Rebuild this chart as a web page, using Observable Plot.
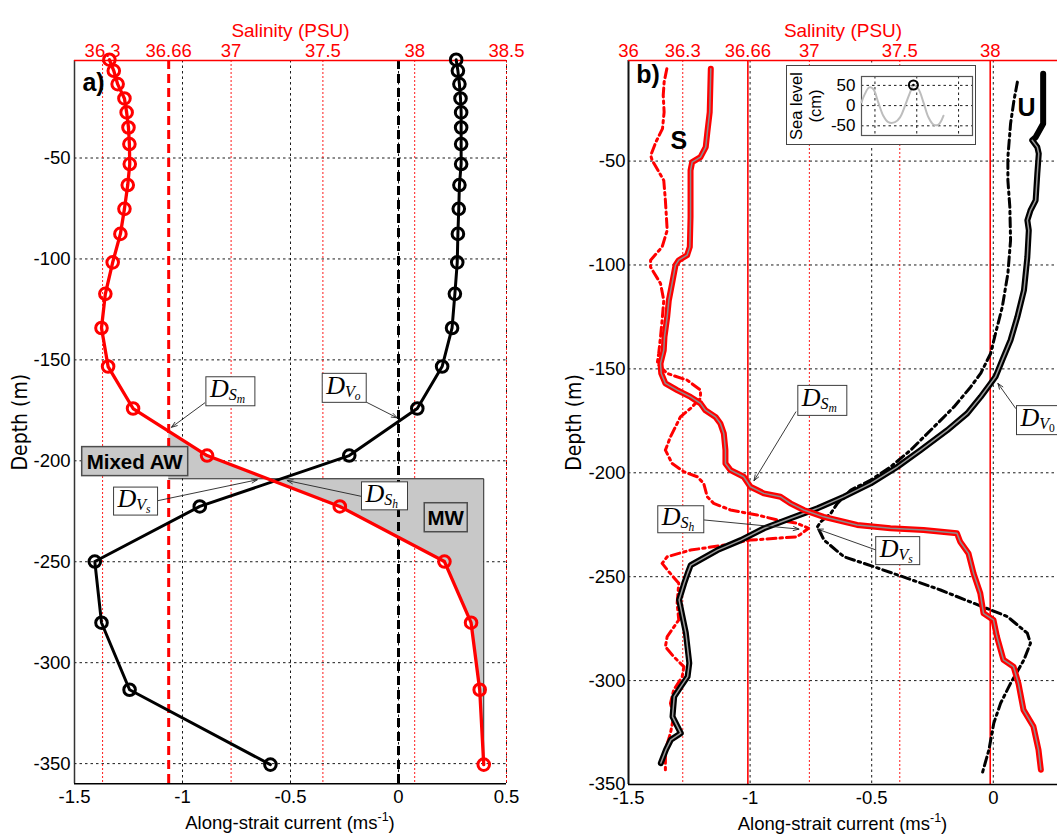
<!DOCTYPE html>
<html>
<head>
<meta charset="utf-8">
<script src="https://cdn.jsdelivr.net/npm/d3@7"></script>
<script src="https://cdn.jsdelivr.net/npm/@observablehq/plot@0.6"></script>
<style>
  html, body { margin: 0; padding: 0; background: #fff; }
  #wrap { position: relative; width: 1057px; height: 835px; overflow: hidden; background: #fff; }
  .panel { position: absolute; top: 0; }
  #inset { position: absolute; left: 786px; top: 65px; border: 1px solid #444; background: #fff; line-height: 0; }
</style>
</head>
<body>
<div id="wrap">
  <div class="panel" id="pa" style="left:0;width:529px"></div>
  <div class="panel" id="pb" style="left:529px;width:528px"></div>
  <div id="inset"></div>
</div>
<script>
// ---------------- tick values and labels ----------------
const depthTicks = [-350, -300, -250, -200, -150, -100, -50];
const depthTickLabels = ["-350", "-300", "-250", "-200", "-150", "-100", "-50"];
const currentTicksA = [-1.5, -1, -0.5, 0, 0.5];
const currentTickLabelsA = ["-1.5", "-1", "-0.5", "0", "0.5"];
const currentTicksB = [-1.5, -1, -0.5, 0];
const currentTickLabelsB = ["-1.5", "-1", "-0.5", "0"];
const salinityTicksA = [36.3, 36.66, 37, 37.5, 38, 38.5];
const salinityTickLabelsA = ["36.3", "36.66", "37", "37.5", "38", "38.5"];
const salinityTicksB = [36, 36.3, 36.66, 37, 37.5, 38];
const salinityTickLabelsB = ["36", "36.3", "36.66", "37", "37.5", "38"];
const seaLevelTicks = [-50, 0, 50];
const seaLevelTickLabels = ["-50", "0", "50"];
const seaTimeGrid = [0, 12, 24];

// ---------------- panel a : profiles (depth m, current m/s, salinity PSU) ----------------
const aDepth = [-1.3, -6.8, -13.4, -20.5, -27.4, -34.9, -43.1, -53.0, -63.4, -75.2, -87.6, -101.7, -117.3, -134.2, -153.3, -174.1, -197.4, -222.6, -249.9, -280.2, -313.4, -350.5];
const aCurrent = [0.267, 0.275, 0.282, 0.287, 0.290, 0.290, 0.290, 0.290, 0.282, 0.279, 0.275, 0.272, 0.261, 0.248, 0.202, 0.087, -0.228, -0.920, -1.406, -1.375, -1.245, -0.593];
const aSalinity = [36.337, 36.361, 36.382, 36.419, 36.431, 36.441, 36.446, 36.448, 36.437, 36.419, 36.397, 36.355, 36.315, 36.294, 36.330, 36.466, 36.869, 37.592, 38.162, 38.307, 38.354, 38.376];
const mixedSal = 36.66;        // salinity threshold line
const interfaceDepth = -208.9; // depth of the shaded-region boundary
const mwSal = 38.376;          // salinity of the MW bound

// ---------------- panel b : profiles ----------------
const bSalDepth = [-5.6, -26.4, -36.1, -43.3, -48.1, -50.5, -54.5, -76.9, -91.3, -95.3, -97.7, -100.1, -108.9, -117, -125, -134.6, -141, -147.4, -152.2, -157, -160.2, -163.5, -166.6, -169.9, -173.1, -176.3, -181.1, -189.1, -195.5, -198.7, -201.9, -206.7, -209.9, -211.5, -214.7, -217.9, -221.2, -225.1, -226.7, -227.5, -229.1, -233.2, -238.8, -248.4, -258, -267.6, -270.8, -278.8, -290, -293.3, -301.3, -314.1, -322.1, -333.3, -342.9];
const bSal = [36.455, 36.449, 36.436, 36.427, 36.398, 36.352, 36.343, 36.343, 36.339, 36.324, 36.278, 36.260, 36.241, 36.223, 36.214, 36.199, 36.195, 36.177, 36.181, 36.204, 36.269, 36.343, 36.398, 36.425, 36.481, 36.508, 36.527, 36.536, 36.536, 36.564, 36.637, 36.674, 36.748, 36.840, 36.895, 36.969, 37.079, 37.264, 37.448, 37.631, 37.816, 37.834, 37.880, 37.908, 37.945, 37.963, 38.018, 38.037, 38.073, 38.129, 38.156, 38.184, 38.239, 38.267, 38.280];
const bSal2Depth = [-5.6, -12, -18.4, -26.4, -34.4, -40.9, -47.3, -49.7, -59.3, -68.9, -83.3, -91.3, -97.7, -101, -108.9, -117, -126.6, -134.6, -142.6, -147.4, -152.2, -155.4, -160.2, -164.2, -169, -173.1, -182.7, -189.1, -195.5, -199.5, -201.9, -205.1, -211.5, -214.7, -217.9, -220.3, -222.7, -224.3, -226.7, -230.8, -231.5, -232.4, -234.8, -237.2, -240.4, -243.6, -247.6, -253.2, -262.8, -270.8, -278.8, -283.7, -288.5, -293.3, -298.1, -304.5, -310.9, -317.3, -325.3, -333.3, -342.9];
const bSal2 = [36.212, 36.197, 36.192, 36.197, 36.188, 36.151, 36.123, 36.131, 36.195, 36.204, 36.214, 36.186, 36.122, 36.122, 36.177, 36.195, 36.186, 36.177, 36.167, 36.159, 36.214, 36.324, 36.398, 36.398, 36.343, 36.287, 36.232, 36.204, 36.241, 36.306, 36.380, 36.416, 36.435, 36.471, 36.564, 36.711, 36.822, 36.932, 36.996, 36.932, 36.822, 36.674, 36.527, 36.343, 36.214, 36.186, 36.223, 36.278, 36.269, 36.278, 36.214, 36.204, 36.250, 36.306, 36.297, 36.250, 36.232, 36.250, 36.232, 36.204, 36.204];
const bCurDepth = [-8, -32, -38.5, -40, -43.3, -46.4, -56.1, -68.9, -73.7, -78.5, -83.3, -96.2, -112.2, -125, -136.2, -145.8, -153.8, -157, -163.5, -171.4, -179.5, -189.1, -197.1, -205.1, -211.5, -217.1, -221.9, -226.7, -232.4, -237.2, -244.4, -248.4, -253.2, -261.2, -269.2, -277.2, -291.6, -298.1, -302.9, -307.7, -317.3, -325.3, -328.5, -333.3, -339.7];
const bCur = [0.205, 0.205, 0.174, 0.160, 0.181, 0.187, 0.181, 0.174, 0.153, 0.140, 0.146, 0.140, 0.126, 0.099, 0.071, 0.037, 0.009, -0.011, -0.052, -0.107, -0.189, -0.299, -0.394, -0.504, -0.614, -0.723, -0.833, -0.942, -1.038, -1.134, -1.244, -1.257, -1.271, -1.292, -1.278, -1.264, -1.250, -1.257, -1.285, -1.312, -1.319, -1.285, -1.326, -1.346, -1.367];
const bCur2Depth = [-12, -20.8, -32, -48.1, -59.3, -72.1, -88.1, -104.1, -120.2, -133, -142.6, -152.2, -158.7, -168.3, -176.3, -184.3, -189.1, -197.1, -203.5, -208.3, -214.7, -219.5, -223.6, -226, -232.4, -240.4, -245.2, -250.8, -256.4, -262.8, -269.2, -277.2, -282, -290, -301.3, -310.9, -320.5, -333.3, -344.5];
const bCur2 = [0.099, 0.085, 0.071, 0.060, 0.060, 0.068, 0.071, 0.060, 0.037, 0.009, -0.011, -0.052, -0.093, -0.162, -0.230, -0.299, -0.340, -0.422, -0.504, -0.586, -0.641, -0.668, -0.710, -0.723, -0.696, -0.614, -0.491, -0.353, -0.217, -0.080, 0.058, 0.140, 0.153, 0.126, 0.071, 0.030, 0.002, -0.018, -0.045];
const refSalB = [36.66, 38];   // solid reference salinity lines in panel b

// ---------------- inset : sea level (hours, cm) ----------------
const seaTime = [-3.86, -2.88, -1.64, -0.49, 0.95, 2.39, 3.83, 5.76, 7.20, 8.65, 10.09, 11.04, 12.48, 13.92, 15.36, 16.80, 18.24, 19.68];
const seaLevel = [8, 29, 45, 41, 8, -25, -41, -41, -29, 0, 33, 51, 41, 8, -29, -47, -47, -25];
const seaMarkIndex = 11;

// ---------------- styling constants ----------------
const SANS = "'Liberation Sans', Arial, Helvetica, sans-serif";
const NARROW = "'Liberation Sans Narrow', 'Arial Narrow', 'DejaVu Sans Condensed', 'Liberation Sans', sans-serif";
const SERIF = "'Liberation Serif', 'Times New Roman', serif";
const RED = "#ff0000";
const SHADE = "#c8c8c8";
const DOT = "2.5,3";
const TICK_FS = 18.5;

// ---------------- scales layout ----------------
const xA = [-1.5, 0.5], yA = [-360, -1.7];
const salRangeA = [36.147, 38.5];
const xB = [-1.5, 0.264], yB = [-350, -1.6];
const salRangeB = [36, 38.372];
const salToCurA = s => xA[0] + (s - salRangeA[0]) * (xA[1] - xA[0]) / (salRangeA[1] - salRangeA[0]);
const salToCurB = s => xB[0] + (s - salRangeB[0]) * (xB[1] - xB[0]) / (salRangeB[1] - salRangeB[0]);
const fmt = (ticks, labels) => { const m = new Map(ticks.map((t, i) => [t, labels[i]])); return v => m.get(v); };

// ---------------- annotations (data coordinates) ----------------
const annotA = {
  dLabels: [
    {x: -0.776, y: -165.8, w: 49, h: 29, sub: "S", subsub: "m"},
    {x: -0.249, y: -164.1, w: 44, h: 29, sub: "V", subsub: "o"},
    {x: -1.215, y: -220.2, w: 44, h: 28, sub: "V", subsub: "s"},
    {x: -0.0625, y: -217.6, w: 46, h: 28, sub: "S", subsub: "h"}
  ],
  arrows: [
    {x1: -0.897, y1: -171.3, x2: -1.051, y2: -183.4},
    {x1: -0.148, y1: -171.0, x2: -0.006, y2: -178.7},
    {x1: -1.112, y1: -219.7, x2: -0.654, y2: -209.4},
    {x1: -0.168, y1: -217.7, x2: -0.515, y2: -209.8}
  ],
  boxes: [
    {x: -1.219, y: -200.4, w: 106, h: 29, text: "Mixed AW"},
    {x: 0.221, y: -228.2, w: 43, h: 29, text: "MW"}
  ],
  labels: [{x: -1.412, y: -12.7, text: "a)"}]
};
const annotB = {
  dLabels: [
    {x: -0.701, y: -165.4, w: 49, h: 30, sub: "S", subsub: "m"},
    {x: 0.190, y: -174.9, w: 45, h: 29, sub: "V", subsub: "0", upright: true},
    {x: -1.283, y: -222.6, w: 46, h: 27, sub: "S", subsub: "h"},
    {x: -0.391, y: -237.7, w: 44, h: 28, sub: "V", subsub: "s"}
  ],
  arrows: [
    {x1: -0.812, y1: -170.7, x2: -0.984, y2: -203.8},
    {x1: 0.092, y1: -169.0, x2: 0.019, y2: -157.0},
    {x1: -1.189, y1: -222.7, x2: -0.799, y2: -227.1},
    {x1: -0.481, y1: -237.2, x2: -0.723, y2: -227.1}
  ],
  labels: [
    {x: -1.420, y: -8.8, text: "b)"},
    {x: -1.293, y: -40.5, text: "S"},
    {x: 0.137, y: -24.4, text: "U"}
  ]
};

// ---------------- helpers ----------------
function salAtDepth(depths, sals, d) {
  for (let i = 0; i < depths.length - 1; i++) {
    const d0 = depths[i], d1 = depths[i + 1];
    if (d <= d0 && d >= d1) { const t = (d - d0) / (d1 - d0); return sals[i] + t * (sals[i + 1] - sals[i]); }
  }
  return NaN;
}
function depthAtSal(depths, sals, s) {
  for (let i = 0; i < depths.length - 1; i++) {
    const s0 = sals[i], s1 = sals[i + 1];
    if ((s - s0) * (s - s1) <= 0 && s0 !== s1) { const t = (s - s0) / (s1 - s0); return depths[i] + t * (depths[i + 1] - depths[i]); }
  }
  return NaN;
}
function addDLabel(svg, X, Y, d) {
  const cx = X.apply(d.x), cy = Y.apply(d.y);
  const g = d3.select(svg).append("g").attr("text-anchor", "start");
  g.append("rect").attr("x", cx - d.w / 2).attr("y", cy - d.h / 2).attr("width", d.w).attr("height", d.h)
    .attr("fill", "#fff").attr("stroke", "#3c3c3c").attr("stroke-width", 1);
  const t = g.append("text").attr("x", cx - d.w / 2 + 4).attr("y", cy + 6).attr("text-anchor", "start")
    .style("font-family", SERIF).style("font-style", "italic").style("font-size", "26px").attr("fill", "#000");
  t.append("tspan").text("D");
  t.append("tspan").style("font-size", "16px").attr("dy", 3).text(d.sub);
  t.append("tspan").style("font-size", "11.5px").attr("dy", 3)
    .style("font-style", d.upright ? "normal" : "italic").text(d.subsub);
}
function addBox(svg, X, Y, b) {
  const cx = X.apply(b.x), cy = Y.apply(b.y);
  const g = d3.select(svg).append("g");
  g.append("rect").attr("x", cx - b.w / 2).attr("y", cy - b.h / 2).attr("width", b.w).attr("height", b.h)
    .attr("fill", SHADE).attr("stroke", "#4d4d4d").attr("stroke-width", 1.5);
  g.append("text").attr("x", cx).attr("y", cy + 7.5).attr("text-anchor", "middle")
    .style("font-family", SANS).style("font-weight", "bold").style("font-size", "20.5px").attr("fill", "#000").text(b.text);
}
function addXTitle(svg, X, Y, xd, yd) {
  const cx = (X.apply(xd[0]) + X.apply(xd[1])) / 2;
  const y = Y.apply(yd[0]) + 46;
  const t = d3.select(svg).append("text").attr("x", cx).attr("y", y).attr("text-anchor", "middle")
    .style("font-family", SANS).style("font-size", TICK_FS + "px").attr("fill", "#000");
  t.append("tspan").text("Along-strait current (ms");
  t.append("tspan").style("font-size", "12.5px").attr("dy", -8).text("-1");
  t.append("tspan").attr("dy", 8).text(")");
}
function commonText(salTicks, salLabels, toCur, curTicks, curLabels, tickPadLeft) {
  const topTicks = salTicks.map(toCur);
  return [
    Plot.axisY(depthTicks, {anchor: "left", tickSize: 0, tickPadding: tickPadLeft, fontSize: TICK_FS, tickFormat: fmt(depthTicks, depthTickLabels), label: null}),
    Plot.axisX(curTicks, {anchor: "bottom", tickSize: 0, tickPadding: 6, fontSize: TICK_FS, tickFormat: fmt(curTicks, curLabels), label: null}),
    Plot.axisX(topTicks, {anchor: "top", tickSize: 0, tickPadding: 4, fontSize: TICK_FS, color: RED, tickFormat: fmt(topTicks, salLabels), label: null}),
    Plot.text(["Salinity (PSU)"], {frameAnchor: "top", dy: -37, fill: RED, fontSize: 19}),
    Plot.text(["Depth (m)"], {frameAnchor: "left", textAnchor: "middle", rotate: -90, dx: -54, fontSize: 21, fontFamily: NARROW})
  ];
}

// ---------------- panel a ----------------
const rowsA = aDepth.map((d, i) => ({depth: d, cur: aCurrent[i], sx: salToCurA(aSalinity[i])}));
const dTop = depthAtSal(aDepth, aSalinity, mixedSal);
const sIface = salAtDepth(aDepth, aSalinity, interfaceDepth);
const mixedRows = [{depth: dTop, s1: mixedSal, s2: mixedSal}];
aDepth.forEach((d, i) => { if (d < dTop && d > interfaceDepth) mixedRows.push({depth: d, s1: mixedSal, s2: aSalinity[i]}); });
mixedRows.push({depth: interfaceDepth, s1: mixedSal, s2: sIface});
const mwRows = [{depth: interfaceDepth, s1: sIface, s2: mwSal}];
aDepth.forEach((d, i) => { if (d < interfaceDepth) mwRows.push({depth: d, s1: aSalinity[i], s2: mwSal}); });
const lastDepthA = aDepth[aDepth.length - 1];

const plotA = Plot.plot({
  width: 529, height: 835,
  marginLeft: 74, marginRight: 23, marginTop: 60, marginBottom: 51.7,
  x: {domain: xA}, y: {domain: yA},
  style: {fontFamily: SANS, fontSize: "18px", background: "#fff", overflow: "visible"},
  marks: [
    Plot.ruleY(depthTicks, {stroke: "#000", strokeWidth: 0.9, strokeDasharray: DOT}),
    Plot.ruleX(currentTicksA.filter(v => v > xA[0]), {stroke: "#000", strokeWidth: 0.9, strokeDasharray: DOT}),
    Plot.ruleX(salinityTicksA.filter(s => s !== mixedSal).map(salToCurA), {stroke: RED, strokeWidth: 0.9, strokeDasharray: "2,2"}),
    Plot.areaX(mixedRows, {y: "depth", x1: r => salToCurA(r.s1), x2: r => salToCurA(r.s2), fill: SHADE}),
    Plot.areaX(mwRows, {y: "depth", x1: r => salToCurA(r.s1), x2: r => salToCurA(r.s2), fill: SHADE}),
    Plot.line([{s: mixedSal, d: interfaceDepth}, {s: mwSal, d: interfaceDepth}, {s: mwSal, d: lastDepthA}],
      {x: r => salToCurA(r.s), y: "d", stroke: "#222", strokeWidth: 1}),
    Plot.ruleX([salToCurA(mixedSal)], {stroke: RED, strokeWidth: 3, strokeDasharray: "9,5"}),
    Plot.ruleX([0], {stroke: "#000", strokeWidth: 3, strokeDasharray: "9,5"}),
    Plot.ruleX([xA[0]], {stroke: "#333", strokeWidth: 1.5}),
    Plot.ruleY([yA[0]], {stroke: "#000", strokeWidth: 1.5}),
    Plot.ruleY([yA[1]], {stroke: RED, strokeWidth: 1.5}),
    Plot.line(rowsA, {x: "cur", y: "depth", stroke: "#000", strokeWidth: 3}),
    Plot.dot(rowsA, {x: "cur", y: "depth", r: 5.8, stroke: "#000", strokeWidth: 3, fill: "none"}),
    Plot.line(rowsA, {x: "sx", y: "depth", stroke: RED, strokeWidth: 3.3}),
    Plot.dot(rowsA, {x: "sx", y: "depth", r: 5.8, stroke: RED, strokeWidth: 3, fill: "none"}),
    Plot.arrow(annotA.arrows, {x1: "x1", y1: "y1", x2: "x2", y2: "y2", stroke: "#222", strokeWidth: 0.9, headLength: 10, headAngle: 40}),
    Plot.text(annotA.labels, {x: "x", y: "y", text: "text", fontSize: 25, fontWeight: "bold"}),
    ...commonText(salinityTicksA, salinityTickLabelsA, salToCurA, currentTicksA, currentTickLabelsA, 4)
  ]
});
{
  const X = plotA.scale("x"), Y = plotA.scale("y");
  annotA.boxes.forEach(b => addBox(plotA, X, Y, b));
  annotA.dLabels.forEach(d => addDLabel(plotA, X, Y, d));
  addXTitle(plotA, X, Y, xA, yA);
}
document.getElementById("pa").appendChild(plotA);

// ---------------- panel b ----------------
const rowsBSal = bSalDepth.map((d, i) => ({depth: d, x: salToCurB(bSal[i])}));
const rowsBSal2 = bSal2Depth.map((d, i) => ({depth: d, x: salToCurB(bSal2[i])}));
const rowsBCur = bCurDepth.map((d, i) => ({depth: d, x: bCur[i]}));
const rowsBCur2 = bCur2Depth.map((d, i) => ({depth: d, x: bCur2[i]}));
const dashDot = "9,4,2.5,4";

const plotB = Plot.plot({
  width: 528, height: 835,
  marginLeft: 99, marginRight: 0, marginTop: 60, marginBottom: 51,
  x: {domain: xB}, y: {domain: yB},
  style: {fontFamily: SANS, fontSize: "18px", background: "#fff", overflow: "visible"},
  marks: [
    Plot.ruleY(depthTicks.filter(v => v > yB[0]), {stroke: "#000", strokeWidth: 0.9, strokeDasharray: DOT}),
    Plot.ruleX(refSalB.map(salToCurB), {stroke: RED, strokeWidth: 1.6}),
    Plot.ruleX(salinityTicksB.filter(s => s > salRangeB[0] && !refSalB.includes(s)).map(salToCurB), {stroke: RED, strokeWidth: 0.9, strokeDasharray: "2,2"}),
    Plot.ruleX(currentTicksB.filter(v => v > xB[0]), {stroke: "#000", strokeWidth: 0.9, strokeDasharray: DOT}),
    Plot.ruleX([xB[0]], {stroke: "#111", strokeWidth: 2}),
    Plot.ruleY([yB[0]], {stroke: "#000", strokeWidth: 1.5}),
    Plot.ruleY([yB[1]], {stroke: RED, strokeWidth: 1.5}),
    Plot.line(rowsBCur2, {x: "x", y: "depth", stroke: "#000", strokeWidth: 3, strokeDasharray: dashDot}),
    Plot.line(rowsBSal2, {x: "x", y: "depth", stroke: RED, strokeWidth: 3, strokeDasharray: dashDot}),
    Plot.line(rowsBCur, {x: "x", y: "depth", stroke: "#000", strokeWidth: 6}),
    Plot.line(rowsBCur.slice(3), {x: "x", y: "depth", stroke: "#9a9a9a", strokeWidth: 1.5}),
    Plot.line(rowsBSal, {x: "x", y: "depth", stroke: RED, strokeWidth: 6}),
    Plot.line(rowsBSal, {x: "x", y: "depth", stroke: "#8c8c8c", strokeWidth: 1.5}),
    Plot.arrow(annotB.arrows, {x1: "x1", y1: "y1", x2: "x2", y2: "y2", stroke: "#222", strokeWidth: 0.9, headLength: 10, headAngle: 40}),
    Plot.text(annotB.labels, {x: "x", y: "y", text: "text", fontSize: 25, fontWeight: "bold"}),
    ...commonText(salinityTicksB, salinityTickLabelsB, salToCurB, currentTicksB, currentTickLabelsB, 3)
  ]
});
{
  const X = plotB.scale("x"), Y = plotB.scale("y");
  annotB.dLabels.forEach(d => addDLabel(plotB, X, Y, d));
  addXTitle(plotB, X, Y, xB, yB);
}
document.getElementById("pb").appendChild(plotB);

// ---------------- inset ----------------
const seaRows = seaTime.map((t, i) => ({t, h: seaLevel[i]}));
const seaMark = [seaRows[seaMarkIndex]];
const plotInset = Plot.plot({
  width: 188, height: 78,
  marginLeft: 74, marginRight: 3, marginTop: 10, marginBottom: 9,
  x: {domain: [-3.86, 28.0], axis: null},
  y: {domain: [-74, 72]},
  style: {fontFamily: SANS, fontSize: "15px", background: "#fff", overflow: "visible"},
  marks: [
    Plot.ruleX(seaTimeGrid, {stroke: "#000", strokeWidth: 0.9, strokeDasharray: DOT}),
    Plot.ruleY(seaLevelTicks, {stroke: "#000", strokeWidth: 0.9, strokeDasharray: DOT}),
    Plot.frame({stroke: "#555", strokeWidth: 1.2}),
    Plot.line(seaRows, {x: "t", y: "h", stroke: "#bdbdbd", strokeWidth: 2, curve: "catmull-rom"}),
    Plot.dot(seaMark, {x: "t", y: "h", r: 4.5, stroke: "#000", strokeWidth: 2, fill: "none"}),
    Plot.dot(seaMark, {x: "t", y: "h", r: 1.3, fill: "#000"}),
    Plot.axisY(seaLevelTicks, {anchor: "left", tickSize: 0, tickPadding: 6, fontSize: 17, tickFormat: fmt(seaLevelTicks, seaLevelTickLabels), label: null}),
    Plot.text(["Sea level\n(cm)"], {frameAnchor: "left", textAnchor: "middle", rotate: -90, dx: -56, fontSize: 16.5, lineHeight: 1.15})
  ]
});
document.getElementById("inset").appendChild(plotInset);
</script>
</body>
</html>
